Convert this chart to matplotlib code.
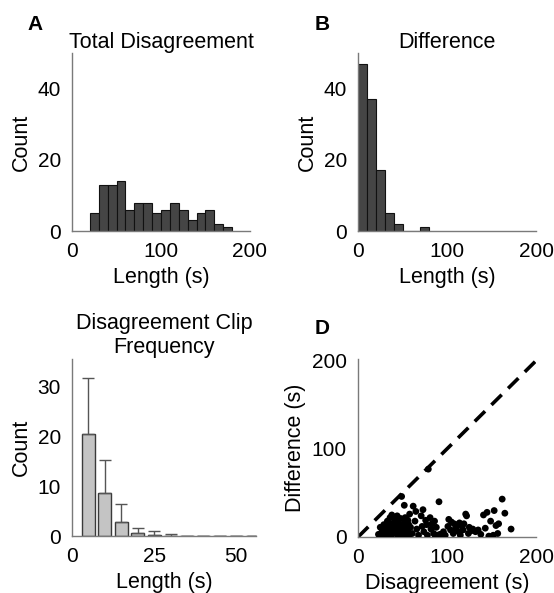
import numpy as np
import matplotlib.pyplot as plt

plt.rcParams['font.family'] = ['Liberation Sans', 'DejaVu Sans']

# A: total disagreement histogram (bin left edges, counts)
total_edges = [20, 30, 40, 50, 60, 70, 80, 90, 100, 110, 120, 130, 140, 150, 160, 170]
total_counts = [5, 13, 13, 14, 6, 8, 8, 5, 6, 8, 6, 3, 5, 6, 2, 1]

# B: difference histogram
diff_edges = [0, 10, 20, 30, 40, 50, 60, 70]
diff_counts = [47, 37, 17, 5, 2, 0, 0, 1]

# C: clip frequency per length bin, mean and upper error
clip_len = [5, 10, 15, 20, 25, 30, 35, 40, 45, 50, 55]
clip_mean = [20.5, 8.7, 2.9, 0.7, 0.2, 0.05, 0, 0, 0, 0, 0]
clip_err = [11.2, 6.5, 3.6, 1.0, 0.8, 0.3, 0, 0, 0, 0, 0]

# D: disagreement vs difference per clip
dis_x = [23, 25, 27, 28, 29,
         31, 32, 33, 34, 35, 36, 36, 37, 38, 38, 39, 39, 35,
         41, 42, 42, 43, 44, 45, 45, 46, 47, 48, 48, 49, 49,
         50, 51, 52, 53, 53, 54, 55, 56, 56, 57, 58, 58, 59, 52,
         61, 62, 64, 65, 66, 68,
         71, 72, 73, 74, 76, 77, 78, 79,
         81, 82, 83, 85, 86, 87, 88, 89,
         91, 92, 94, 96, 98,
         101, 102, 104, 105, 107, 108,
         110, 112, 113, 114, 115, 117, 118, 119,
         121, 122, 124, 125, 127, 129,
         132, 135, 138,
         141, 143, 145, 147, 149,
         150, 152, 153, 155, 157, 158,
         162, 165, 172]
dif_y = [3, 11, 6, 1, 14,
         8, 2, 18, 12, 5, 22, 9, 1, 15, 25, 6, 11, 3,
         20, 4, 13, 8, 24, 1, 17, 10, 6, 14, 21, 3, 46,
         9, 2, 16, 12, 22, 5, 1, 19, 8, 14, 3, 26, 11, 36,
         4, 35, 18, 29, 9, 2,
         24, 12, 31, 6, 19, 14, 2, 77,
         22, 9, 15, 4, 18, 1, 11, 2,
         40, 3, 1, 6, 2,
         12, 20, 8, 17, 4, 15,
         10, 14, 6, 16, 2, 12, 8, 15,
         26, 24, 4, 11, 7, 9,
         6, 8, 3,
         25, 10, 28, 1, 18,
         0.5, 2, 30, 13, 4, 15,
         43, 27, 9]

W, H = 554, 593
fig = plt.figure(figsize=(W / 100, H / 100), dpi=100)


def px_axes(l, t, r, b):
    return fig.add_axes([l / W, 1 - b / H, (r - l) / W, (b - t) / H])


def style(ax):
    for s in ['top', 'right']:
        ax.spines[s].set_visible(False)
    for s in ['left', 'bottom']:
        ax.spines[s].set_color('#7a7a7a')
        ax.spines[s].set_linewidth(1)
    ax.tick_params(length=0, labelsize=15, pad=8)


# Panel A
axA = px_axes(72, 53, 250, 231)
axA.bar(total_edges, total_counts, width=10, align='edge', color='#454545',
        edgecolor='#111111', linewidth=0.8)
axA.set_xlim(0, 200)
axA.set_ylim(0, 50)
axA.set_xticks([0, 100, 200])
axA.set_yticks([0, 20, 40])
axA.set_xlabel('Length (s)', fontsize=15.5, labelpad=4)
axA.set_ylabel('Count', fontsize=15.5, labelpad=4)
axA.set_title('Total Disagreement', fontsize=15.5, pad=2)
style(axA)

# Panel B
axB = px_axes(358, 53, 536, 231)
axB.bar(diff_edges, diff_counts, width=10, align='edge', color='#454545',
        edgecolor='#111111', linewidth=0.8)
axB.set_xlim(0, 200)
axB.set_ylim(0, 50)
axB.set_xticks([0, 100, 200])
axB.set_yticks([0, 20, 40])
axB.set_xlabel('Length (s)', fontsize=15.5, labelpad=4)
axB.set_ylabel('Count', fontsize=15.5, labelpad=4)
axB.set_title('Difference', fontsize=15.5, pad=2)
style(axB)

# Panel C
axC = px_axes(72, 359, 256, 536)
axC.bar(clip_len, clip_mean, width=4, color='#c4c4c4', edgecolor='#3a3a3a',
        linewidth=1, yerr=[np.zeros(len(clip_err)), clip_err],
        error_kw=dict(ecolor='#555555', elinewidth=1, capsize=4.5, capthick=1))
axC.set_xlim(0, 56)
axC.set_ylim(0, 35.4)
axC.set_xticks([0, 25, 50])
axC.set_yticks([0, 10, 20, 30])
axC.set_xlabel('Length (s)', fontsize=15.5, labelpad=4)
axC.set_ylabel('Count', fontsize=15.5, labelpad=4)
axC.set_title('Disagreement Clip\nFrequency', fontsize=15.5, pad=4, linespacing=1.2)
style(axC)

# Panel D
axD = px_axes(358, 359, 536, 537)
axD.plot([0, 200], [0, 200], color='black', linewidth=2.6, dashes=(4, 2.5))
axD.scatter(dis_x, dif_y, s=24, color='black', edgecolors='none', zorder=3)
axD.set_xlim(0, 200)
axD.set_ylim(0, 202)
axD.set_xticks([0, 100, 200])
axD.set_yticks([0, 100, 200])
axD.set_xlabel('Disagreement (s)', fontsize=15.5, labelpad=4)
axD.set_ylabel('Difference (s)', fontsize=15.5, labelpad=4)
style(axD)

# Panel letters
for x, y, s in [(35, 25, 'A'), (322, 25, 'B'), (322, 329, 'D')]:
    fig.text(x / W, 1 - y / H, s, fontsize=15, fontweight='bold',
             ha='center', va='center')

fig.savefig('out.png', dpi=100)
